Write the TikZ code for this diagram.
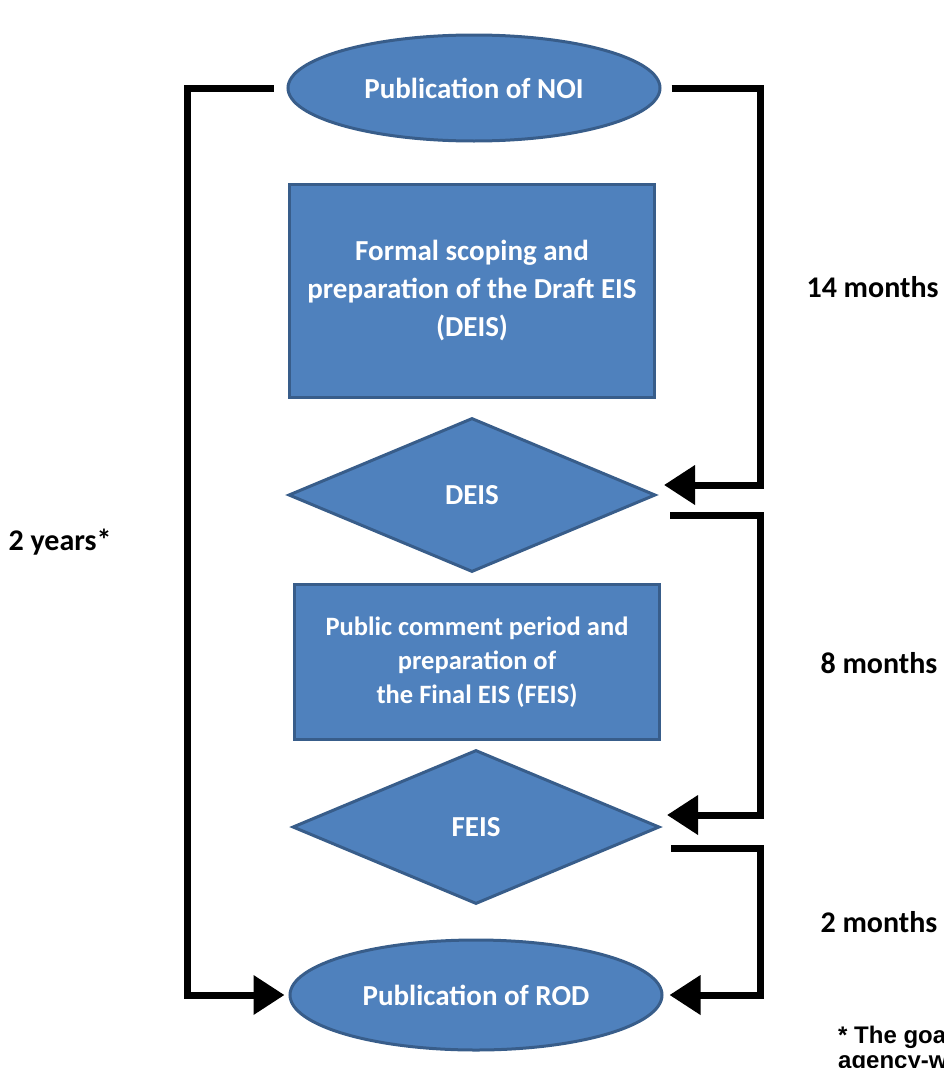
\documentclass[tikz,border=0pt]{standalone}
\usepackage{fontspec}
\setmainfont{Carlito}
\newfontfamily\notefont{Liberation Sans}
\usetikzlibrary{shapes.geometric,arrows.meta,positioning}

\definecolor{stepblue}{HTML}{4F81BD}
\definecolor{stepedge}{HTML}{385D8A}

\tikzset{
  stage/.style={draw=stepedge, line width=3pt, fill=stepblue, text=white,
    font=\bfseries\fontsize{29}{38}\selectfont, align=center},
  oval/.style={stage, ellipse, minimum width=372pt, minimum height=106pt},
  taskbox/.style={stage, rectangle, minimum width=365pt},
  gate/.style={stage, diamond, minimum width=367pt, minimum height=154pt, inner sep=0pt},
  link/.style={line width=7pt, -{Triangle[length=31pt,width=38pt]}},
  span/.style={font=\bfseries\fontsize{30}{34}\selectfont, anchor=west},
}

\begin{document}
\begin{tikzpicture}[x=1pt, y=-1pt]
\useasboundingbox (0,0) rectangle (944,1068);
\clip (0,0) rectangle (944,1068);

% stages
\node[oval] (noi) at (474,88) {Publication of NOI};
\node[taskbox, minimum height=213pt] (scope) at (472,291) {Formal scoping and\\preparation of the Draft EIS\\(DEIS)};
\node[gate] (deis) at (472,495) {DEIS};
\node[taskbox, minimum height=155pt, font=\bfseries\fontsize{26.5}{34}\selectfont] (comment) at (477,662) {Public comment period and\\preparation of\\the Final EIS (FEIS)};
\node[gate] (feis) at (476,827) {FEIS};
\node[oval, minimum height=110pt] (rod) at (476,995) {Publication of ROD};

% bend points
\coordinate (lft) at (187,0);
\coordinate (rgt) at (760,0);

% durations
\draw[link] ([xshift=-13pt]noi.west) -- (noi.west -| lft) -- (rod.west -| lft) -- ([xshift=-4pt]rod.west);
\draw[link] ([xshift=10pt]noi.east) -- (noi.east -| rgt) -- ([yshift=10pt]deis.east -| rgt) -- ([xshift=7pt,yshift=10pt]deis.east);
\draw[link] ([xshift=13pt,yshift=-20pt]deis.east) -- ([yshift=-20pt]deis.east -| rgt) -- ([yshift=12pt]feis.east -| rgt) -- ([xshift=6pt,yshift=12pt]feis.east);
\draw[link] ([xshift=10pt,yshift=-21pt]feis.east) -- ([yshift=-21pt]feis.east -| rgt) -- (rod.east -| rgt) -- ([xshift=6pt]rod.east);

\node[span] (t14) at (803,287) {14 months};
\node[span] (t8) at (817,663) {8 months};
\node[span] (t2) at (817,922) {2 months};
\node[span] (yrs) at (5,542) {2 years*};
\node[anchor=north west, align=left, inner sep=0pt, font=\notefont\bfseries\fontsize{24}{25}\selectfont] (note) at (838,1026) {* The goal\\agency-wide};
\end{tikzpicture}
\end{document}
